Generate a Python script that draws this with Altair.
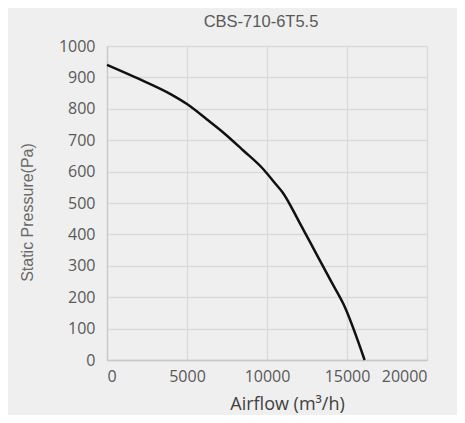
import altair as alt
import pandas as pd

airflow = [0, 2000, 4000, 5000, 6250, 7300, 8500, 9800, 10500, 11000, 12000, 13000, 14000, 14800, 16100]
pressure = [940, 895, 846, 815, 766, 723, 668, 606, 563, 532, 441, 346, 251, 176, 0]

df = pd.DataFrame({"airflow": airflow, "pressure": pressure})

chart = alt.Chart(df).mark_line(color="#111111", strokeWidth=2.5, interpolate="monotone").encode(
    x=alt.X("airflow:Q", scale=alt.Scale(domain=[0, 20000], nice=False),
            axis=alt.Axis(values=[0, 5000, 10000, 15000, 20000], format="d", title="Airflow (m³/h)",
                          titleFontSize=18, titleFontWeight="normal", titleColor="#404040",
                          titleX=180, titleY=44, titleBaseline="middle", labelPadding=8)),
    y=alt.Y("pressure:Q", scale=alt.Scale(domain=[0, 1000], nice=False),
            axis=alt.Axis(values=list(range(0, 1001, 100)), format="d", title="Static Pressure(Pa)",
                          titleFont="Liberation Sans", titleFontSize=16, titleFontWeight="normal",
                          titleColor="#6a6a6a", titleX=-79.5, titleY=166, titleBaseline="middle",
                          titleAngle=270, labelPadding=12)),
).properties(
    width=320, height=314,
    title=alt.TitleParams("CBS-710-6T5.5", fontSize=16.5, fontWeight="normal", color="#595959",
                          font="Liberation Sans", offset=8, dx=-6),
    background="#efefef",
    autosize=alt.AutoSizeParams(type="none"),
    padding={"left": 99, "top": 38, "right": 30, "bottom": 55},
).configure_view(stroke=None).configure_axis(
    labelFont="Open Sans", titleFont="Open Sans", labelFontSize=16, labelColor="#595959",
    gridColor="#d9d9d9", gridWidth=1.3, ticks=False, domainColor="#c8c8c8", domainWidth=1.3,
)

chart.save("out.html", embed_options={"renderer": "svg", "actions": False})
